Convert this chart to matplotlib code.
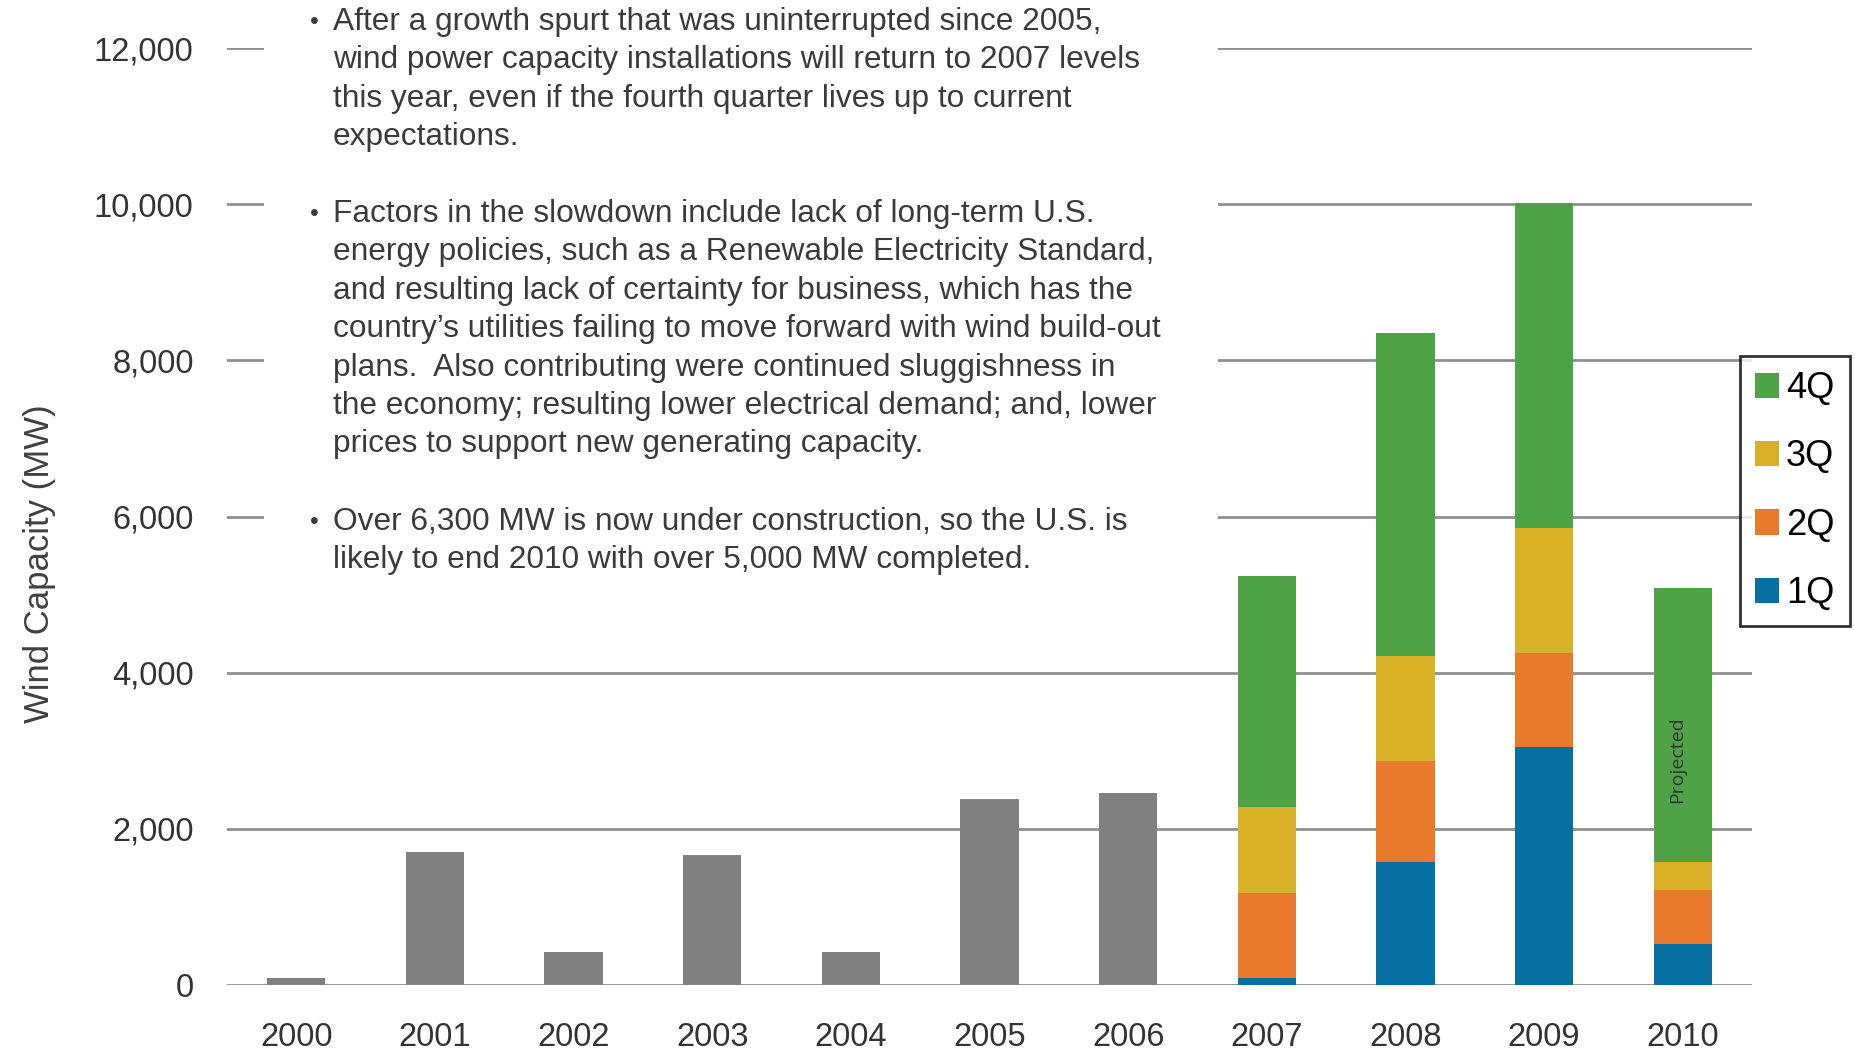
import matplotlib
matplotlib.use("Agg")
import matplotlib.pyplot as plt
from matplotlib.patches import Rectangle, Patch

plt.rcParams['font.family'] = ['Liberation Sans', 'DejaVu Sans']

# --- data ---
years = ["2000", "2001", "2002", "2003", "2004", "2005", "2006",
         "2007", "2008", "2009", "2010"]
annual_total = [90, 1700, 420, 1670, 420, 2380, 2460]          # 2000-2006, no quarterly split
q_years = ["2007", "2008", "2009", "2010"]
q1 = [90, 1580, 3050, 530]
q2 = [1090, 1290, 1200, 690]
q3 = [1100, 1340, 1600, 350]
q4 = [2960, 4140, 4160, 3520]
quarter_labels = ["1Q", "2Q", "3Q", "4Q"]
quarter_colors = ["#0570a1", "#ea7a2b", "#d9b128", "#4ea346"]
y_ticks = [0, 2000, 4000, 6000, 8000, 10000, 12000]

bullets = [
    ["After a growth spurt that was uninterrupted since 2005,",
     "wind power capacity installations will return to 2007 levels",
     "this year, even if the fourth quarter lives up to current",
     "expectations."],
    ["Factors in the slowdown include lack of long-term U.S.",
     "energy policies, such as a Renewable Electricity Standard,",
     "and resulting lack of certainty for business, which has the",
     "country\u2019s utilities failing to move forward with wind build-out",
     "plans.  Also contributing were continued sluggishness in",
     "the economy; resulting lower electrical demand; and, lower",
     "prices to support new generating capacity."],
    ["Over 6,300 MW is now under construction, so the U.S. is",
     "likely to end 2010 with over 5,000 MW completed."],
]

W, H = 1856, 1052
fig = plt.figure(figsize=(W / 100, H / 100), dpi=100)
ax = fig.add_axes([227 / W, 1 - 985 / H, (1752 - 227) / W, (985 - 48) / H])

x_all = list(range(len(years)))
ax.bar(x_all[:len(annual_total)], annual_total, width=0.42, color="#808080", zorder=2)

xq = [years.index(y) for y in q_years]
bottom = [0] * len(xq)
for vals, col in zip([q1, q2, q3, q4], quarter_colors):
    ax.bar(xq, vals, width=0.42, bottom=bottom, color=col, zorder=2)
    bottom = [b + v for b, v in zip(bottom, vals)]

# gridlines
for t in y_ticks:
    ax.axhline(t, color="#8f8f8f", lw=2.0, zorder=1)

ax.set_xlim(-0.5, len(years) - 0.5)
ax.set_ylim(0, 12000)
for s in ax.spines.values():
    s.set_visible(False)
ax.set_yticks(y_ticks)
ax.set_yticklabels([f"{t:,}" for t in y_ticks])
ax.set_xticks(x_all)
ax.set_xticklabels(years)
ax.tick_params(axis="y", length=0, pad=24, labelsize=23.5, labelcolor="#333333")
ax.tick_params(axis="x", length=0, pad=27, labelsize=23.5, labelcolor="#333333")
ax.set_ylabel("Wind Capacity (MW)", fontsize=25, color="#404040")
ax.yaxis.set_label_coords(-0.112, 0.45)

# "Projected" note on 2010 bar
ax.text(years.index("2010") - 0.04, 2880, "Projected", rotation=90, ha="center",
        va="center", fontsize=14, color="#333333", family=["Open Sans", "DejaVu Sans"],
        zorder=3)

# white panel behind the commentary, interrupting the gridlines
ax.add_patch(Rectangle((0.024, 0.41), 0.626, 0.7, transform=ax.transAxes,
                       facecolor="white", edgecolor="none", zorder=1.5, clip_on=False))

# commentary bullets
starts = [22, 214, 522]
step = 38.4
for block, y0 in zip(bullets, starts):
    fig.text(310 / W, 1 - y0 / H, "\u2022", fontsize=18, color="#3a3a3a",
             ha="left", va="center")
    for i, line in enumerate(block):
        fig.text(333 / W, 1 - (y0 + i * step) / H, line, fontsize=22.8,
                 color="#3a3a3a", ha="left", va="center")

handles = [Patch(facecolor=c, edgecolor="none", label=l)
           for l, c in zip(quarter_labels[::-1], quarter_colors[::-1])]
leg = ax.legend(handles=handles, loc="upper left", bbox_to_anchor=(1740 / W, 1 - 356 / H),
                bbox_transform=fig.transFigure, borderaxespad=0, fontsize=26,
                handlelength=0.65, handleheight=0.7, handletextpad=0.2,
                labelspacing=0.92, borderpad=0.42, fancybox=False, frameon=True)
leg.get_frame().set_edgecolor("black")
leg.get_frame().set_linewidth(2)

fig.savefig("out.png", dpi=100, facecolor="white")
